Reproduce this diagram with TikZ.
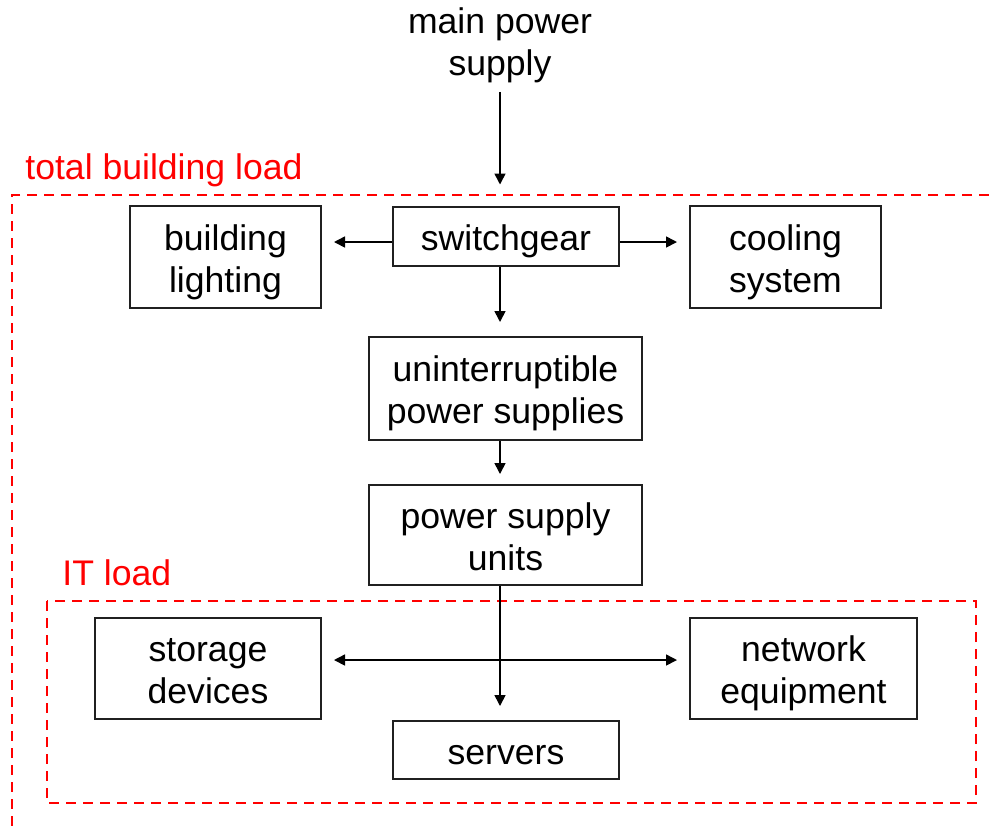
\documentclass[tikz,border=0pt]{standalone}
\usepackage{fontspec}
\setmainfont{Liberation Sans}
\usepackage{tikz}
\usetikzlibrary{arrows.meta}
\definecolor{loadred}{HTML}{FF0000}
\definecolor{boxgray}{HTML}{202020}
\tikzset{
  unitbox/.style={draw=boxgray,line width=1pt,fill=white,align=center,inner sep=0pt,
    text height=38.7pt,
    execute at end node={\vrule width 0pt height 0pt depth 3.7pt}},
  oneline/.style={text height=17.7pt},
  loadframe/.style={draw=loadred,line width=1pt,dash pattern=on 5pt off 3.5pt},
  loadlabel/.style={text=loadred,anchor=base west,inner sep=0pt},
  tip/.tip={Triangle[length=5.5pt,width=5.5pt]},
  flow/.style={line width=0.8pt,-tip},
}
\begin{document}
\begin{tikzpicture}[x=0.5pt,y=-0.5pt,font=\fontsize{17.8}{21}\selectfont]
\useasboundingbox (0,0) rectangle (989,826);
\draw[loadframe] (989,195) -| (12,826);
\draw[loadframe] (47,601) rectangle (976,803);
\node[loadlabel] (totallabel) at (25,179) {total building load};
\node[loadlabel] (itlabel) at (62,585) {IT load};
\node[align=center,inner sep=0pt] (mains) at (500,45) {main power\\supply};
\node[unitbox,minimum width=95.5pt,minimum height=51pt] (light) at (225.5,257) {building\\lighting};
\node[unitbox,oneline,minimum width=113pt,minimum height=29.5pt] (switch) at (506,236) {switchgear};
\node[unitbox,minimum width=95.5pt,minimum height=51pt] (cool) at (785.5,257) {cooling\\system};
\node[unitbox,minimum width=136.5pt,minimum height=51.5pt] (ups) at (505.5,388.5) {uninterruptible\\power supplies};
\node[unitbox,minimum width=136.5pt,minimum height=50pt] (psu) at (505.5,535) {power supply\\units};
\node[unitbox,minimum width=113pt,minimum height=50.5pt] (storage) at (208,668.5) {storage\\devices};
\node[unitbox,minimum width=113.5pt,minimum height=50.5pt] (net) at (803.5,668.5) {network\\equipment};
\node[unitbox,oneline,minimum width=113pt,minimum height=29pt] (servers) at (506,750) {servers};
\draw[flow,shorten <=4.5pt,shorten >=10.5pt] (mains) -- (switch.north -| mains);
\draw[flow,shorten >=6pt] ([yshift=-3pt]switch.west) -- ([yshift=-3pt]switch.west -| light.east);
\draw[flow,shorten >=6pt] ([yshift=-3pt]switch.east) -- ([yshift=-3pt]switch.east -| cool.west);
\draw[flow,shorten >=7pt] (switch.south -| mains) -- (ups.north -| mains);
\draw[flow,shorten >=5pt] (ups.south -| mains) -- (psu.north -| mains);
\draw[flow,shorten >=7pt] (psu.south -| mains) -- (servers.north -| mains);
\draw[flow,tip-tip,shorten <=6pt,shorten >=6pt] ([yshift=4.25pt]storage.east) -- ([yshift=4.25pt]net.west);
\end{tikzpicture}
\end{document}
